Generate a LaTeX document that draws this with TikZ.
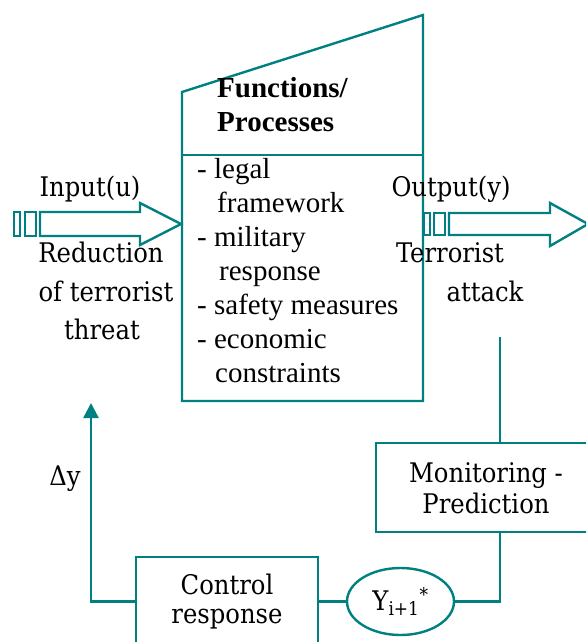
\documentclass[tikz,border=0pt]{standalone}
\usepackage{fontspec}
\newfontfamily\timesfont{Liberation Serif}
\newfontfamily\labelfont{DejaVu Serif Condensed}
\usetikzlibrary{arrows.meta,shapes.geometric}
\definecolor{teal1}{RGB}{0,128,128}
\begin{document}
\begin{tikzpicture}[x=1pt,y=-1pt,
  line/.style={draw=teal1,line width=2.4pt},
  hollow/.style={draw=teal1,line width=2.4pt,fill=white,line join=miter},
  lbl/.style={inner sep=0pt,anchor=base,font=\labelfont\fontsize{27}{32}\selectfont},
  item/.style={inner sep=0pt,anchor=base west,font=\timesfont\fontsize{29}{32}\selectfont},
  head/.style={inner sep=0pt,anchor=base west,font=\timesfont\bfseries\fontsize{29}{32}\selectfont},
  blockbox/.style={draw=teal1,line width=2.4pt,fill=white,inner sep=0pt},
]
\useasboundingbox (0,0) rectangle (586,642);
\clip (0,0) rectangle (586,642);

% system block: slanted top, header band, list below
\coordinate (tl) at (182,92);
\coordinate (tr) at (423,15);
\coordinate (br) at (423,401);
\coordinate (bl) at (182,401);
\draw[line,line join=miter] (tl) -- (tr) -- (br) -- (bl) -- cycle;
\draw[line] (182,155) -- (423,155);

\node[head] (fn1) at (217,97) {Functions/};
\node[head] (fn2) at (217,131) {Processes};

\node[item] (i1) at (197,178) {- legal};
\node[item] (i2) at (217,212) {framework};
\node[item] (i3) at (197,246) {-\ military};
\node[item] (i4) at (219,280) {response};
\node[item] (i5) at (197,314) {- safety measures};
\node[item] (i6) at (197,348) {- economic};
\node[item] (i7) at (215,382) {constraints};

% striped input arrow
\draw[hollow] (14,212) rectangle (20,236);
\draw[hollow] (25,212) rectangle (36,236);
\draw[hollow] (40,212) -- (140,212) -- (140,203) -- (181,224)
  -- (140,245) -- (140,236) -- (40,236) -- cycle;

% striped output arrow
\draw[hollow] (424,213) rectangle (430,235);
\draw[hollow] (434,213) rectangle (445,235);
\draw[hollow] (449,213) -- (550,213) -- (550,203) -- (588,224)
  -- (550,246) -- (550,235) -- (449,235) -- cycle;

% input / output labels
\node[lbl] (inl) at (90,196) {Input(u)};
\node[lbl] (in1) at (101,262) {Reduction};
\node[lbl] (in2) at (106,301) {of terrorist};
\node[lbl] (in3) at (102,339) {threat};

\node[lbl] (outl) at (451,196) {Output(y)};
\node[lbl] (out1) at (450,262) {Terrorist};
\node[lbl] (out2) at (485,301) {attack};

% feedback blocks
\node[blockbox,minimum width=224pt,minimum height=89pt] (mon) at (488,487.5) {};
\node[lbl] (mon1) at (486,482) {Monitoring -};
\node[lbl] (mon2) at (486,513) {Prediction};

\node[blockbox,minimum width=182pt,minimum height=98pt] (ctrl) at (227,606) {};
\node[lbl] (ctrl1) at (227,594) {Control};
\node[lbl] (ctrl2) at (227,623) {response};

\node[ellipse,draw=teal1,line width=2.4pt,fill=white,inner sep=0pt,
      minimum width=107pt,minimum height=67pt,
      font=\labelfont\fontsize{27}{32}\selectfont] (yhat) at (400.5,601.5)
      {Y\textsubscript{i+1}\textsuperscript{*}};

\node[lbl] (dy) at (65,485) {Δy};

% feedback loop
\coordinate (otop) at (500,337);
\coordinate (fb) at (91,403);
\draw[line] (otop) -- (otop |- mon.north);
\draw[line] (otop |- mon.south) |- (yhat.east);
\draw[line] (yhat.west) -- (yhat.west -| ctrl.east);
\draw[line,-{Triangle[width=15pt,length=15pt]}] (ctrl.west |- yhat.west) -| (fb);
\end{tikzpicture}
\end{document}
